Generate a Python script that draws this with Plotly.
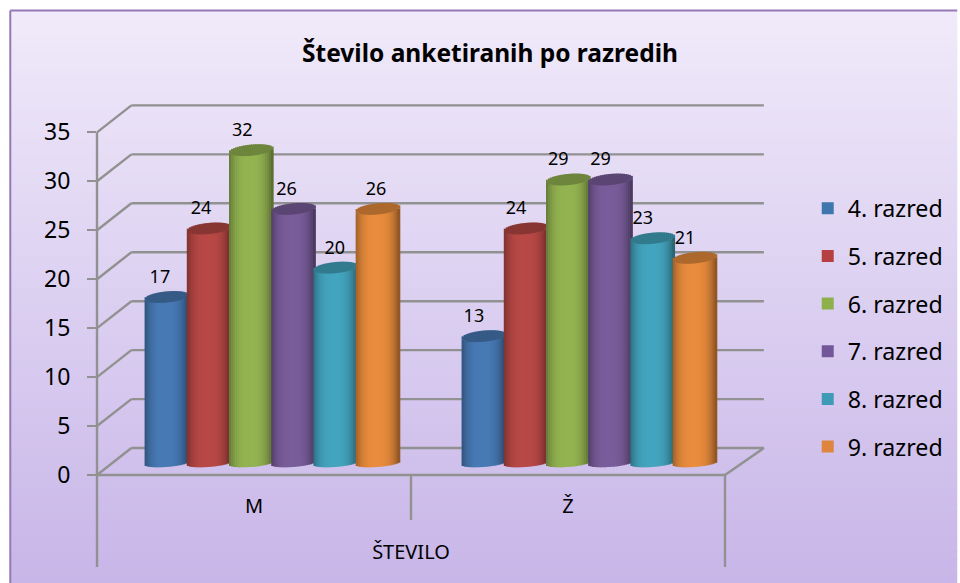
import math
import plotly.graph_objects as go

categories = ["M", "Ž"]
series_names = ["4. razred", "5. razred", "6. razred", "7. razred", "8. razred", "9. razred"]
values_m = [17, 24, 32, 26, 20, 26]
values_z = [13, 24, 29, 29, 23, 21]
base_colors = ["#4A7EBB", "#BE4B48", "#98B954", "#7D60A0", "#46AAC5", "#F0913F"]
legend_colors = ["#3F76AE", "#B5403F", "#8EB04B", "#74569A", "#3F9BB5", "#DE853E"]
y_ticks = [0, 5, 10, 15, 20, 25, 30, 35]

W, H = 960, 583
L, R, B = 97, 727, 475
PX_Y = 9.8
Y_TOP = 38  # head-room so the tallest data label stays inside the axis range
T = B - Y_TOP * PX_Y
PX_X = (R - L) / 2.0


def xp(px):
    return (px - L) / (R - L)


def yp(px):
    return (B - px) / (B - T)


def dx(v):
    return L + (v + 0.5) * PX_X


def dy(v):
    return B - v * PX_Y


def shade(c, f):
    r, g, b = int(c[1:3], 16), int(c[3:5], 16), int(c[5:7], 16)
    return "rgb(%d,%d,%d)" % (min(255, r * f), min(255, g * f), min(255, b * f))


shapes = []
# page gradient and frame
top = (240, 234, 250)
bot = (200, 182, 232)
N_BG = 72
for i in range(N_BG):
    t = i / (N_BG - 1)
    col = "rgb(%d,%d,%d)" % tuple(round(a + (b - a) * t) for a, b in zip(top, bot))
    y0 = 10 + (H - 10) * i / N_BG
    y1 = 10 + (H - 10) * (i + 1) / N_BG + 1
    shapes.append(dict(type="rect", xref="paper", yref="paper", layer="below",
                       x0=xp(10), x1=xp(W), y0=yp(y0), y1=yp(min(y1, H)),
                       fillcolor=col, line=dict(width=0)))
FRAME = "#9678B8"
for a in [(10, 10, W, 10), (10, 10, 10, H)]:
    shapes.append(dict(type="line", xref="paper", yref="paper", layer="below",
                       x0=xp(a[0]), y0=yp(a[1]), x1=xp(a[2]), y1=yp(a[3]),
                       line=dict(color=FRAME, width=2)))

# 3D wall and floor
GRID = "#919191"
BACK_DX, BACK_DY = 34.5, 27
BACK_R = 766


def seg(x0, y0, x1, y1):
    shapes.append(dict(type="line", xref="paper", yref="paper", layer="below",
                       x0=xp(x0), y0=yp(y0), x1=xp(x1), y1=yp(y1),
                       line=dict(color=GRID, width=2.4)))


for v in y_ticks:
    py = dy(v)
    seg(L, py, L + BACK_DX, py - BACK_DY)
    seg(L + BACK_DX, py - BACK_DY, BACK_R, py - BACK_DY)
seg(L, dy(35), L, 567)
seg(L, B, R, B)
seg(R, B, R, 567)
seg(R, B, BACK_R, B - BACK_DY)
seg(dx(0.5), B, dx(0.5), 520)

# cylinders
BAR_PX = 44.0
STEP_PX = 42.35
CENTER_SHIFT = [18.5, 21.5]
BASE_PX = 463.3
BASE_V = (B - BASE_PX) / PX_Y
TOP_RY, TOP_TILT = 5.5, 2.0
BOT_RY, BOT_TILT = 3.6, 1.7
N = 22

fig = go.Figure()
data = [values_m, values_z]

for s, name in enumerate(series_names):
    xs = []
    for c in range(2):
        off = (s - 2.5) * STEP_PX + CENTER_SHIFT[c]
        xs.append(c + off / PX_X)
    vals = [data[0][s], data[1][s]]
    fig.add_trace(go.Bar(x=xs, y=vals, base=[BASE_V, BASE_V], width=[36 / PX_X] * 2,
                         name=name, legendgroup=name, marker=dict(color=legend_colors[s], line=dict(width=0)),
                         cliponaxis=False, hoverinfo="skip"))
    sx, sy, sb, sw, sc = [], [], [], [], []
    for c in range(2):
        v = vals[c]
        for k in range(N):
            u = -1 + (2 * k + 1) / N
            arc = math.sqrt(max(0, 1 - u * u))
            f = 0.60 + 0.37 * max(0, 1 - abs((u + 0.05) / 1.0) ** 3.0)
            x = xs[c] + u * BAR_PX / 2 / PX_X
            w = (BAR_PX / N + 0.8) / PX_X
            low = BASE_V + (BOT_TILT * u - BOT_RY * arc) / PX_Y
            front = BASE_V + v + (TOP_TILT * u - TOP_RY * arc) / PX_Y
            back = BASE_V + v + (TOP_TILT * u + TOP_RY * arc) / PX_Y
            sx += [x, x]
            sb += [low, front - 0.02]
            sy += [front - low, back - front + 0.02]
            sw += [w, w]
            sc += [shade(base_colors[s], f), shade(base_colors[s], 0.72)]
    fig.add_trace(go.Bar(x=sx, y=sy, base=sb, width=sw, marker=dict(color=sc, line=dict(width=0)),
                         showlegend=False, legendgroup=name, cliponaxis=False, hoverinfo="skip"))

# data labels
LABEL_SHIFT = [[-7, -8, -9, -7, -1, -2], [-10, -10, -10, -10, -10, -10]]
LABEL_FONT = 18
for c in range(2):
    lx, ly, lt = [], [], []
    for s in range(6):
        off = (s - 2.5) * STEP_PX + CENTER_SHIFT[c] + LABEL_SHIFT[c][s]
        lx.append(c + off / PX_X)
        ly.append(BASE_V + data[c][s] + 18.5 / PX_Y)
        lt.append(str(data[c][s]))
    fig.add_trace(go.Scatter(x=lx, y=ly, text=lt, mode="text", textposition="middle center",
                             textfont=dict(size=LABEL_FONT, color="#000000", family="Noto Sans"),
                             showlegend=False, cliponaxis=False, hoverinfo="skip"))

fig.update_layout(
    width=W, height=H, autosize=False,
    margin=dict(l=L, r=W - R, t=T, b=H - B),
    paper_bgcolor="#FFFFFF", plot_bgcolor="rgba(0,0,0,0)",
    barmode="overlay", shapes=shapes,
    font=dict(family="Noto Sans", color="#000000"),
    title=dict(text="<b>Število anketiranih po razredih</b>", font=dict(size=24.5, color="#000000", family="Noto Sans"),
               x=490 / W, xanchor="center", y=1 - 53 / H, yanchor="middle"),
    xaxis=dict(range=[-0.5, 1.5], tickmode="array", tickvals=[0, 1], ticktext=categories,
               showgrid=False, zeroline=False, showline=False, ticks="", ticklabelstandoff=17,
               tickfont=dict(size=20), title=dict(text="ŠTEVILO", font=dict(size=20), standoff=26)),
    yaxis=dict(range=[0, Y_TOP], tickmode="array", tickvals=y_ticks, ticktext=[str(v) for v in y_ticks],
               showgrid=False, zeroline=False, showline=False, ticks="outside", ticklen=9, tickwidth=2,
               tickcolor=GRID, tickfont=dict(size=23), ticklabelstandoff=12),
    legend=dict(x=xp(810), xanchor="left", y=yp(327.5), yanchor="middle", traceorder="grouped",
                tracegroupgap=14.5, bgcolor="rgba(0,0,0,0)", font=dict(size=23.2)),
)

fig.write_html("out.html", config={"displayModeBar": False}, post_script="document.body.style.margin='0';")
